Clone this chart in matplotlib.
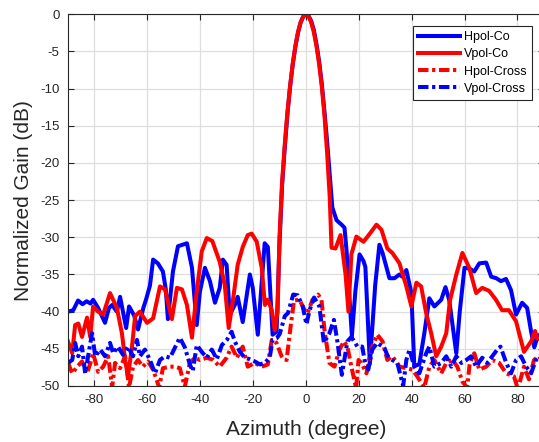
import matplotlib
matplotlib.use("Agg")
import matplotlib.pyplot as plt

# azimuth (deg) / normalized gain (dB)
hpol_co_x = [-90, -88, -86.2, -84.5, -83, -81.5, -80.5, -78.6, -76, -74.5, -73.3, -71.5, -70.3, -68,
             -66.9, -65, -63.5, -61.5, -60.5, -59, -57.8, -56, -54.1, -53, -52.2, -50.3, -48.4, -45,
             -43.1, -41.3, -40.1, -38.2, -36.3, -34.4, -32.6, -31.4, -30, -28.8, -26.9, -25.8, -23.9,
             -21.2, -20.1, -18.2, -15.6, -14.4, -12.6, -11.1, -10, -9, -8, -7, -6, -5, -4, -3, -2, -1,
             0, 1, 2, 3, 4, 5, 6, 7, 8, 9, 10, 11.6, 13.5, 14.6, 15.4, 16.2, 17.4, 18.7, 20.3, 21.8,
             22.5, 24.2, 26.2, 27.8, 29, 31.6, 33.5, 35.4, 36.5, 38, 39.9, 41, 42.9, 44.8, 46.7, 48.6,
             51.2, 52.8, 54.2, 56.9, 58.2, 60, 61.8, 63.7, 65.6, 68.2, 70.1, 72, 73.8, 75.7, 77.6,
             79.5, 81.8, 83.7, 85.2, 86.4, 87.5, 90]
hpol_co_y = [-40.0, -39.8, -38.5, -39.0, -38.6, -38.9, -38.4, -39.5, -41.5, -39.5, -39.1, -40.0, -38.0,
             -42.2, -39.3, -40.5, -42.4, -39.5, -38.4, -36.5, -33.0, -33.5, -34.6, -37.0, -41.0, -34.6,
             -31.2, -30.8, -34.1, -41.8, -37.3, -34.1, -35.9, -38.8, -36.8, -33.0, -33.7, -40.4, -39.1,
             -38.0, -41.4, -35.0, -36.8, -43.1, -30.8, -31.3, -43.1, -42.7, -31.0, -23.0, -18.0, -13.5,
             -9.8, -6.8, -4.4, -2.5, -1.1, -0.3, 0.0, -0.2, -0.9, -2.1, -4.0, -6.3, -9.3, -13.0, -17.0,
             -21.5, -26.0, -27.7, -28.3, -28.7, -31.9, -36.5, -43.3, -37.3, -32.3, -33.2, -34.0, -47.0,
             -36.5, -31.0, -32.1, -35.5, -35.5, -35.0, -35.3, -34.4, -37.5, -47.3, -47.1, -42.9, -38.2,
             -39.3, -38.4, -36.7, -38.4, -45.6, -40.0, -34.1, -34.2, -34.6, -33.5, -33.4, -35.3, -35.5,
             -35.9, -35.6, -37.1, -40.4, -38.8, -39.5, -42.7, -44.8, -43.5, -42.5]

vpol_co_x = [-90, -88.4, -87.3, -86.1, -84.7, -82.8, -81.6, -80.5, -78.6, -76.7, -74.1, -71.5, -69.6,
             -68.4, -67.3, -65.8, -64.6, -62.8, -60.1, -57.8, -55.2, -53.3, -50.7, -48.8, -46.9, -45,
             -43.1, -41.3, -39.4, -37.5, -35.4, -33.3, -32.6, -30.7, -29.2, -27.7, -25.8, -23.9, -22,
             -20.5, -18.6, -16.7, -15.5, -14.4, -12.9, -11.8, -10.7, -10, -9, -8, -7, -6, -5, -4, -3,
             -2, -1, 0, 1, 2, 3, 4, 5, 6, 7, 8, 9, 9.7, 11.2, 13.1, 15, 16.1, 17.2, 19.1, 21.8, 24.4,
             26.7, 28.6, 30.8, 32.7, 35.4, 38, 39.9, 41.8, 43.6, 45.5, 47.4, 49.3, 51.2, 53.1, 54.5,
             56.9, 59.2, 61.8, 64.4, 66.7, 69.3, 71.9, 74.2, 76.8, 79.5, 82.5, 85.2, 86.7, 87.5, 90]
vpol_co_y = [-44.0, -45.6, -41.8, -41.6, -43.4, -40.8, -43.4, -39.3, -40.0, -40.4, -37.5, -39.5, -42.9,
             -46.5, -48.7, -44.7, -40.6, -40.0, -41.5, -40.9, -36.6, -37.0, -41.0, -36.8, -37.0, -39.1,
             -43.5, -37.3, -31.9, -30.1, -30.5, -32.6, -33.3, -36.4, -42.2, -38.7, -33.7, -31.3, -29.7,
             -29.5, -30.6, -34.1, -39.1, -38.4, -39.8, -42.5, -40.0, -30.0, -22.5, -17.5, -13.2, -9.7,
             -6.7, -4.3, -2.4, -1.1, -0.3, 0.0, -0.3, -1.1, -2.4, -4.3, -6.7, -9.7, -13.5, -18.5, -24.5,
             -31.4, -31.5, -29.7, -35.0, -40.0, -32.3, -29.9, -30.6, -29.4, -28.3, -29.0, -31.5, -32.1,
             -33.5, -36.6, -39.3, -36.1, -36.6, -40.2, -42.9, -46.0, -44.7, -42.9, -38.5, -35.0, -32.1,
             -34.1, -37.5, -36.8, -37.2, -38.4, -39.8, -39.8, -41.3, -45.4, -44.0, -42.6, -43.6, -44.0]

hpol_cross_x = [-90, -88.4, -86.5, -84.7, -82.8, -81.6, -80.5, -78.6, -76.7, -74.8, -73.3, -72.2, -70.3,
                -68.4, -66.9, -65.4, -63.5, -61.7, -59.7, -57.8, -55.5, -54.1, -51.4, -49.5, -47.7,
                -45.8, -43.9, -42, -40.1, -37.5, -35, -32.6, -30, -28.1, -26.1, -23.9, -22, -19.4,
                -16.7, -14.4, -12.9, -11.1, -9.2, -8.4, -7.3, -6.1, -4.5, -2.4, -0.5, 0.6, 2.5, 4.6,
                5.9, 7, 8.9, 10.8, 12.7, 14.4, 15.7, 17.2, 19, 19.9, 21, 22.9, 24.8, 27, 29, 30.8,
                32.7, 35.4, 38, 40.3, 42.1, 44.8, 46.7, 48.6, 51.2, 53.1, 55.4, 57.3, 59.2, 61, 62,
                63.7, 65.6, 68.2, 70.5, 73.1, 75.8, 78.7, 80.2, 82.5, 84.4, 86.3, 88, 90]
hpol_cross_y = [-46.9, -48.3, -47.4, -46.7, -48.3, -47.0, -45.6, -48.1, -47.4, -46.0, -50.2, -46.9,
                -47.6, -46.0, -50.2, -47.4, -46.5, -47.4, -46.7, -47.8, -50.2, -47.6, -47.4, -47.4,
                -47.6, -50.1, -46.9, -46.2, -46.5, -46.2, -46.5, -47.4, -46.2, -44.7, -46.2, -44.7,
                -47.4, -46.9, -47.4, -47.1, -43.8, -44.2, -46.0, -46.4, -46.5, -42.9, -38.5, -38.4,
                -39.8, -40.2, -38.4, -37.7, -38.4, -42.4, -46.9, -47.4, -45.1, -44.0, -44.7, -47.4,
                -50.3, -46.5, -46.9, -48.3, -45.0, -43.1, -44.0, -46.5, -46.0, -47.4, -47.6, -47.8,
                -48.7, -50.2, -47.4, -46.5, -48.3, -46.9, -46.5, -47.4, -49.4, -50.2, -46.9, -45.6,
                -47.8, -47.4, -46.5, -46.9, -48.3, -48.7, -50.4, -47.4, -49.1, -46.5, -46.0, -47.0]

vpol_cross_x = [-90, -88.4, -87.3, -86.1, -84.7, -83.5, -82.4, -80.9, -79.7, -77.8, -76, -74.1, -72.9,
                -71.1, -69.2, -67.3, -65.4, -63.9, -62.8, -60.9, -59, -57.1, -55.2, -53.3, -51.4,
                -49.5, -47.7, -45.8, -43.9, -42.8, -41.3, -39.4, -37.5, -35.6, -33.7, -31.8, -29.9,
                -28.1, -26.9, -25, -23.1, -21.2, -19.3, -17.4, -15.6, -13.7, -12.6, -11.1, -9.9, -8,
                -6.8, -4.8, -3.1, -1.2, 0.2, 1.4, 3.1, 5.1, 6.8, 8.9, 10.6, 11.9, 13.6, 15.7, 17.2,
                19.5, 21.3, 22.2, 23.6, 25.1, 27, 29.7, 31, 32.7, 34.6, 36.8, 38, 39.2, 41, 42.9,
                45.5, 46.7, 48.6, 51.2, 53.1, 55, 56.9, 58.8, 60.7, 62.5, 64.4, 66.7, 68.6, 70.5,
                72.4, 73.6, 75.8, 77.6, 79.5, 81.4, 83.3, 85.2, 87, 90]
vpol_cross_y = [-46.9, -46.5, -44.2, -46.0, -44.7, -48.3, -46.0, -42.9, -46.0, -45.1, -46.0, -44.2,
                -45.6, -44.7, -45.8, -44.7, -46.0, -43.8, -46.0, -45.1, -46.5, -48.3, -46.5, -46.0,
                -46.2, -44.8, -43.5, -44.8, -47.1, -48.0, -44.5, -45.4, -46.2, -45.1, -46.4, -44.5,
                -43.8, -42.7, -44.0, -45.4, -46.2, -46.4, -46.7, -47.1, -46.9, -46.2, -43.8, -43.6,
                -43.0, -40.6, -40.2, -37.7, -37.8, -39.3, -41.7, -39.8, -38.1, -39.3, -44.2, -42.9,
                -41.1, -44.0, -48.5, -44.0, -43.4, -44.7, -44.7, -46.5, -47.8, -45.1, -44.2, -44.9,
                -46.0, -46.5, -46.9, -50.0, -46.5, -45.1, -47.4, -48.3, -45.6, -44.7, -47.4, -46.9,
                -46.0, -47.4, -46.0, -46.9, -46.5, -46.0, -47.4, -46.2, -46.9, -46.0, -45.1, -44.7,
                -46.9, -48.3, -46.5, -46.0, -47.4, -48.3, -46.5, -45.5]

x_ticks = [-80, -60, -40, -20, 0, 20, 40, 60, 80]
y_ticks = [0, -5, -10, -15, -20, -25, -30, -35, -40, -45, -50]

plt.rcParams['font.family'] = ['Liberation Sans', 'DejaVu Sans']
plt.rcParams['axes.unicode_minus'] = False
ink = '#262626'

fig = plt.figure(figsize=(5.39, 4.42), dpi=100)
# the right edge of the original axes is cut off by the picture
ax = fig.add_axes([68 / 539, 56 / 442, 475.8 / 539, 371.7 / 442])

lw = 2.9
dashdot = (0, (2.6, 0.9, 0.8, 0.9))
ax.plot(hpol_co_x, hpol_co_y, color='#0000ff', lw=lw, label='Hpol-Co')
ax.plot(vpol_co_x, vpol_co_y, color='#ff0000', lw=lw, label='Vpol-Co')
ax.plot(hpol_cross_x, hpol_cross_y, color='#ff0000', lw=lw, ls=dashdot, label='Hpol-Cross')
ax.plot(vpol_cross_x, vpol_cross_y, color='#0000ff', lw=lw, ls=dashdot, label='Vpol-Cross')

ax.set_xlim(-90, 90)
ax.set_ylim(-50, 0)
ax.set_xticks(x_ticks)
ax.set_yticks(y_ticks)
ax.grid(True, color='#dedede', lw=0.9)
ax.set_axisbelow(True)
ax.tick_params(direction='in', length=4, width=0.8, colors=ink, labelsize=9.5,
               top=True, right=True, pad=6)
for s in ax.spines.values():
    s.set_color(ink)
    s.set_linewidth(0.8)

ax.set_xlabel('Azimuth (degree)', fontsize=15, color=ink, labelpad=10)
ax.set_ylabel('Normalized Gain (dB)', fontsize=15, color=ink, labelpad=5)

leg = ax.legend(loc='upper right', bbox_to_anchor=((532 - 68) / 475.8, (386 - 26) / 371.7),
                borderaxespad=0, fontsize=9, handlelength=3.4, handletextpad=0.35,
                labelspacing=0.42, borderpad=0.4, fancybox=False, framealpha=1)
leg.get_frame().set_edgecolor(ink)
leg.get_frame().set_linewidth(0.8)

fig.savefig('out.png', dpi=100)
